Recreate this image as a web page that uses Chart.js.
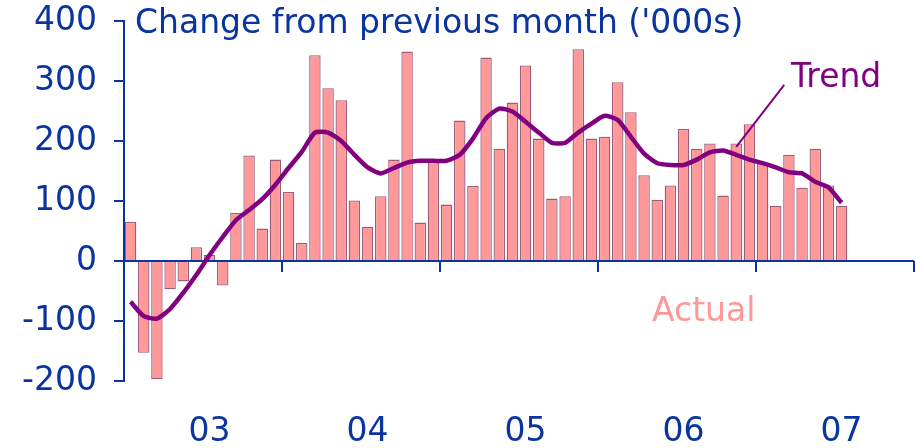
<!DOCTYPE html>
<html>
<head>
<meta charset="utf-8">
<script src="https://cdn.jsdelivr.net/npm/chart.js@4"></script>
<style>
  body { margin: 0; background: #fff; }
  #wrap { position: relative; width: 916px; height: 448px; }
  .lbl { position: absolute; font-family: "DejaVu Sans", sans-serif; font-size: 33px; line-height: 33px; white-space: nowrap; }
</style>
</head>
<body>
<div id="wrap">
  <canvas id="myChart" width="916" height="448"></canvas>
  <div class="lbl" style="left:135px; top:5px; color:#0a35a0;">Change from previous month ('000s)</div>
  <div class="lbl" style="left:791px; top:59px; color:#800080;">Trend</div>
  <div class="lbl" style="left:652px; top:293px; color:#ff9999;">Actual</div>
</div>
<script>
// Jan 2003 .. Dec 2007, one category per month
const years = ['03', '04', '05', '06', '07'];
const months = [];
years.forEach(y => { for (let m = 1; m <= 12; m++) months.push(y + '-' + m); });

// monthly change, '000s (Jan 2003 - Jul 2007)
const actual = [
  65, -153, -197, -47, -34, 23, 10, -41, 80, 176, 54, 169,
  115, 30, 343, 288, 268, 101, 57, 108, 169, 349, 64, 167,
  94, 234, 125, 339, 187, 264, 326, 204, 104, 108, 353, 204,
  207, 298, 248, 143, 102, 126, 220, 187, 196, 109, 196, 228,
  163, 92, 177, 122, 187, 126, 92
];
const trend = [
  -68, -92, -96, -80, -53, -23, 10, 40, 68, 85, 103, 127,
  155, 182, 214, 214, 200, 177, 156, 146, 155, 164, 167, 167,
  167, 177, 204, 238, 254, 249, 232, 214, 197, 197, 214, 229,
  242, 235, 207, 179, 163, 160, 160, 169, 181, 184, 177, 169,
  163, 156, 148, 146, 132, 123, 97
];
const yTicks = [-200, -100, 0, 100, 200, 300, 400];

const axisBlue = '#0a35a0';

// year tick marks under the zero line + leader line for "Trend"
const extras = {
  id: 'extras',
  afterDraw(chart) {
    const c = chart.ctx, x = chart.scales.x, y = chart.scales.y;
    const y0 = y.getPixelForValue(0);
    const step = x.width / months.length;
    c.save();
    c.strokeStyle = axisBlue;
    c.lineWidth = 2;
    for (let i = 1; i <= years.length; i++) {
      const px = Math.round(x.left + step * i * 12);
      c.beginPath();
      c.moveTo(px, y0);
      c.lineTo(px, y0 + 11);
      c.stroke();
    }
    // leader
    const ex = x.getPixelForValue(46), ey = y.getPixelForValue(trend[46]) - 8;
    c.strokeStyle = '#800080';
    c.lineWidth = 2;
    c.beginPath();
    c.moveTo(ex, ey);
    c.lineTo(ex + 48, ey - 62);
    c.stroke();
    c.restore();
  }
};

const ctx = document.getElementById('myChart');

new Chart(ctx, {
  type: 'bar',
  data: {
    labels: months,
    datasets: [{
      type: 'line',
      label: 'Trend',
      data: trend,
      borderColor: '#800080',
      borderWidth: 4.5,
      pointRadius: 0,
      tension: 0.2,
      order: 0,
    }, {
      label: 'Actual',
      data: actual,
      backgroundColor: '#ff9999',
      borderColor: '#9c5c7c',
      borderWidth: 1.3,
      barPercentage: 0.87,
      categoryPercentage: 1,
      order: 1,
    }],
  },
  options: {
    responsive: false,
    animation: false,
    devicePixelRatio: 1,
    layout: {
      padding: { left: 22, top: 21, right: 2, bottom: 0 }
    },
    plugins: {
      legend: false,
      tooltip: { enabled: false },
    },
    scales: {
      x: {
        offset: true,
        grid: { display: false, drawTicks: false },
        border: { display: false },
        afterFit: (s) => { s.height = 67; s.paddingLeft = 0; s.paddingRight = 0; },
        ticks: {
          autoSkip: false,
          maxRotation: 0,
          padding: 35,
          color: axisBlue,
          font: { family: 'DejaVu Sans', size: 33, lineHeight: 1 },
          callback: (v, i) => (i % 12 === 6 ? years[Math.floor(i / 12)] : ''),
        },
      },
      y: {
        min: yTicks[0],
        max: yTicks[yTicks.length - 1],
        afterBuildTicks: (s) => { s.ticks = yTicks.map(v => ({ value: v })); },
        afterFit: (s) => { s.width = 102; s.paddingTop = 0; s.paddingBottom = 0; },
        grid: {
          color: (c) => (c.tick && c.tick.value === 0 ? axisBlue : 'rgba(0,0,0,0)'),
          tickColor: axisBlue,
          lineWidth: 2,
          tickLength: 10,
        },
        border: { color: axisBlue, width: 2 },
        ticks: {
          padding: 17,
          color: axisBlue,
          font: { family: 'DejaVu Sans', size: 33, lineHeight: 1 },
        },
      },
    },
  },
  plugins: [extras],
});
</script>
</body>
</html>
